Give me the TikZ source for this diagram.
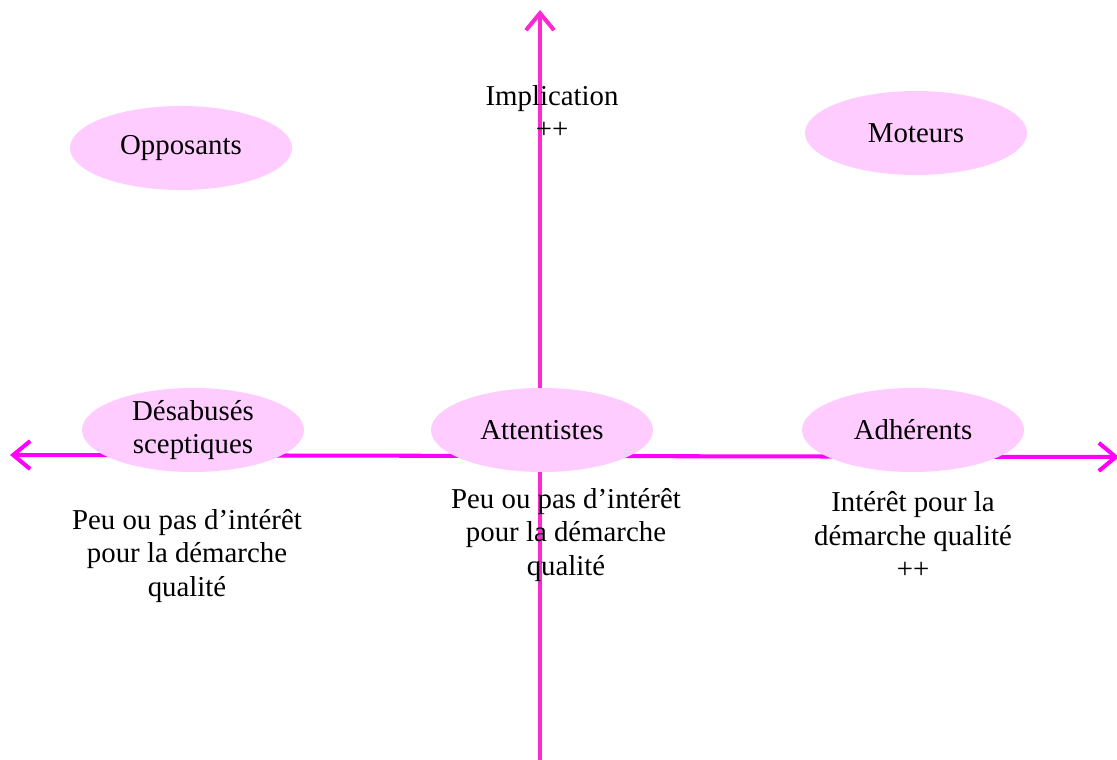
\documentclass[tikz,border=0pt]{standalone}
\usepackage{fontspec}
\setmainfont{Liberation Serif}
\usepackage{tikz}
\usetikzlibrary{shapes,arrows.meta}
\usetikzlibrary{positioning}

\definecolor{axeh}{RGB}{255,0,255}
\definecolor{axev}{RGB}{255,40,210}
\definecolor{bulle}{RGB}{255,204,255}

\begin{document}
\begin{tikzpicture}[
  groupe/.style={ellipse, fill=bulle, inner sep=0pt, minimum width=2.22cm, minimum height=0.84cm, align=center, font=\fontsize{8.2}{9.4}\selectfont},
  legende/.style={align=center, inner sep=0pt, font=\fontsize{8.2}{9.6}\selectfont},
  axe/.style={line width=1.15pt, -{Straight Barb[length=1.7mm, width=2.8mm, line width=1.15pt]}}
]
\useasboundingbox (0,0) rectangle (11.17,-7.60);

% axes
\coordinate (bas) at (5.40,-7.62);
\coordinate (haut) at (5.40,-0.10);
\coordinate (droite) at (5.40,-4.56);
\coordinate (gauche) at (0.10,-4.55);
\coordinate (est) at (11.19,-4.57);
\draw[axe, color=axev] (bas) -- (haut);
\draw[axe, color=axeh] (droite) -- (gauche);
\draw[axe, color=axeh] (droite) -- (est);

\node[legende] (implication) at (5.52,-1.12) {Implication\\++};

\node[groupe] (opposants) at (1.81,-1.48) {Opposants};
\node[groupe] (moteurs) at (9.16,-1.33) {Moteurs};
\node[groupe] (desabuses) at (1.93,-4.30) {Désabusés\\sceptiques};
\node[groupe] (attentistes) at (5.42,-4.30) {Attentistes};
\node[groupe] (adherents) at (9.13,-4.30) {Adhérents};

\node[legende] (peugauche) at (1.87,-5.56) {Peu ou pas d’intérêt\\pour la démarche\\qualité};
\node[legende] (peumilieu) at (5.66,-5.35) {Peu ou pas d’intérêt\\pour la démarche\\qualité};
\node[legende] (interet) at (9.13,-5.35) {Intérêt pour la\\démarche qualité\\++};
\end{tikzpicture}
\end{document}
